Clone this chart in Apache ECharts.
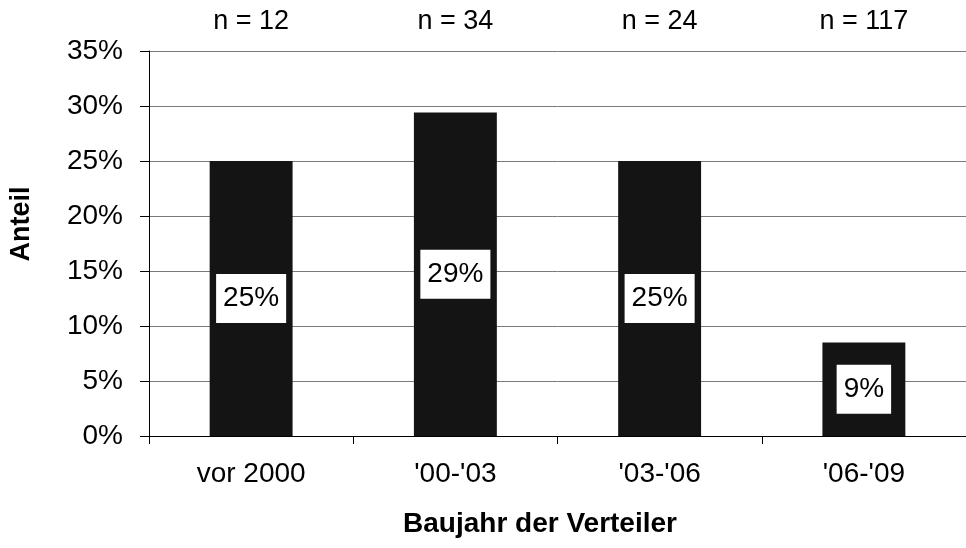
<!DOCTYPE html>
<html>
<head>
<meta charset="utf-8">
<script src="https://cdn.jsdelivr.net/npm/echarts@6/dist/echarts.min.js"></script>
<style>
  html, body { margin: 0; padding: 0; background: #fff; }
  #chart { width: 966px; height: 548px; }
</style>
</head>
<body>
<div id="chart"></div>
<script>
// Share of distributors by construction period
const categories = ['vor 2000', "'00-'03", "'03-'06", "'06-'09"];
const sampleSizes = [12, 34, 24, 117];
const shares = [25, 29.4, 25, 8.5];
const yTicks = { min: 0, max: 35, interval: 5 };

const FONT = '"Liberation Sans", Arial, sans-serif';
const chart = echarts.init(document.getElementById('chart'), null, { renderer: 'canvas' });

chart.setOption({
  animation: false,
  backgroundColor: '#ffffff',
  textStyle: { fontFamily: FONT, color: '#000' },
  grid: { left: 149, right: 0, top: 51, bottom: 112, containLabel: false },
  xAxis: [
    {
      type: 'category',
      data: categories,
      position: 'bottom',
      axisLine: { show: true, lineStyle: { color: '#000', width: 1 } },
      axisTick: { show: true, length: 8, lineStyle: { color: '#000' } },
      axisLabel: { fontSize: 28, color: '#000', margin: 24, fontFamily: FONT }
    },
    {
      type: 'category',
      data: sampleSizes.map(n => 'n = ' + n),
      position: 'top',
      axisLine: { show: false },
      axisTick: { show: false },
      axisLabel: { fontSize: 27, color: '#000', margin: 16, fontFamily: FONT }
    }
  ],
  yAxis: {
    type: 'value',
    min: yTicks.min,
    max: yTicks.max,
    interval: yTicks.interval,
    axisLine: { show: true, lineStyle: { color: '#000', width: 1 } },
    axisTick: { show: true, length: 9, lineStyle: { color: '#000' } },
    axisLabel: { fontSize: 28, color: '#000', margin: 26, formatter: '{value}%', fontFamily: FONT },
    splitLine: { show: true, lineStyle: { color: '#7a7a7a', width: 1 } }
  },
  series: [
    {
      type: 'bar',
      xAxisIndex: 0,
      data: shares,
      barWidth: '40.6%',
      itemStyle: { color: '#141414' },
      label: {
        show: true,
        position: 'inside',
        formatter: p => Math.round(p.value) + '%',
        color: '#000',
        backgroundColor: '#fff',
        padding: [11, 7, 10, 7],
        fontSize: 28,
        fontFamily: FONT
      }
    }
  ],
  graphic: [
    {
      type: 'text',
      x: 540,
      y: 524,
      style: { text: 'Baujahr der Verteiler', font: 'bold 28px ' + FONT, fill: '#000', align: 'center', verticalAlign: 'middle' }
    },
    {
      type: 'text',
      x: 22,
      y: 224,
      rotation: Math.PI / 2,
      style: { text: 'Anteil', font: 'bold 27px ' + FONT, fill: '#000', align: 'center', verticalAlign: 'middle' }
    }
  ]
});
</script>
</body>
</html>
